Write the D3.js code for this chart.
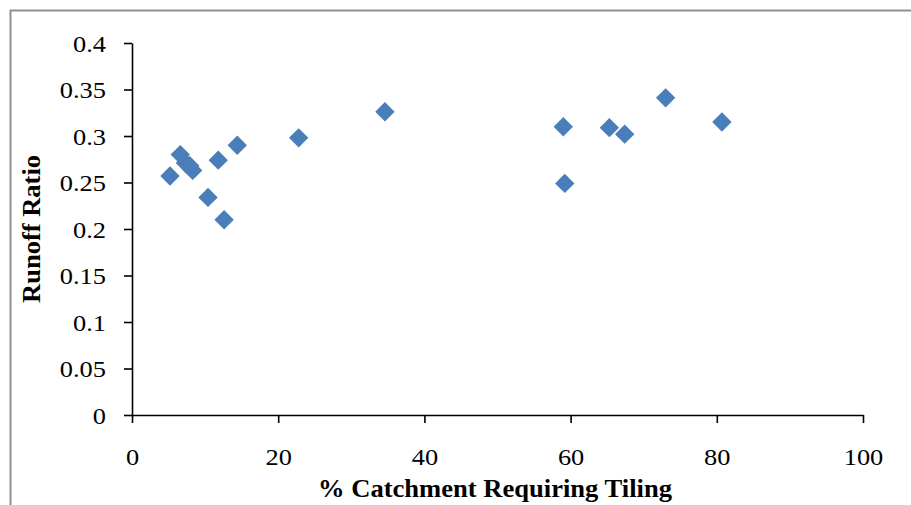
<!DOCTYPE html>
<html>
<head>
<meta charset="utf-8">
<script src="https://cdn.jsdelivr.net/npm/d3@7"></script>
<style>
    body { margin: 0; background: #fff; }
    #chart-area { width: 911px; height: 505px; overflow: hidden; }
    .axis text { font-family: "Liberation Serif", "Times New Roman", serif; font-size: 24px; fill: #000; }
    .axis path, .axis line { stroke: #000; stroke-width: 1.6px; }
    .axis-title { font-family: "Liberation Serif", "Times New Roman", serif; font-weight: bold; fill: #000; }
</style>
</head>
<body>
<div id="chart-area"></div>
<script>

// values
const catchmentTiling = [5.2, 6.6, 7.3, 7.9, 8.3, 10.4, 11.8, 12.6, 14.4, 22.8, 34.6, 59.0, 59.2, 65.3, 67.4, 73.0, 80.7];
const runoffRatio = [0.257, 0.280, 0.271, 0.268, 0.263, 0.234, 0.274, 0.210, 0.290, 0.298, 0.326, 0.310, 0.249, 0.309, 0.302, 0.341, 0.315];

const xTicks = [0, 20, 40, 60, 80, 100];
const yTicks = [0, 0.05, 0.1, 0.15, 0.2, 0.25, 0.3, 0.35, 0.4];

const xLabel = "% Catchment Requiring Tiling";
const yLabel = "Runoff Ratio";


/* * * * * * * * * * * * * *
*      class ScatterPlot      *
* * * * * * * * * * * * * */

class ScatterPlot {

    constructor(parentElement, xData, yData) {
        this.parentElement = parentElement;
        this.xData = xData;
        this.yData = yData;
        this.displayData = [];

        this.initVis();
    }

    initVis() {
        let vis = this;

        vis.margin = {top: 43, right: 48, bottom: 90, left: 132};
        vis.width = 911 - vis.margin.left - vis.margin.right;
        vis.height = 505 - vis.margin.top - vis.margin.bottom;

        vis.root = d3.select("#" + vis.parentElement).append("svg")
            .attr("width", 911)
            .attr("height", 505);

        // grey chart frame (runs off the right and bottom edges)
        vis.root.append("rect")
            .attr("x", 10.5)
            .attr("y", 10.5)
            .attr("width", 1000)
            .attr("height", 1000)
            .attr("fill", "none")
            .attr("stroke", "#8f8f8f")
            .attr("stroke-width", 2);

        vis.svg = vis.root.append("g")
            .attr("transform", `translate(${vis.margin.left}, ${vis.margin.top})`);

        // scales
        vis.x = d3.scaleLinear()
            .domain([0, 100])
            .range([0, vis.width]);

        vis.y = d3.scaleLinear()
            .domain([0, 0.4])
            .range([vis.height, 0]);

        // axes
        vis.xAxis = d3.axisBottom(vis.x)
            .tickValues(xTicks)
            .tickSizeInner(8)
            .tickSizeOuter(0)
            .tickFormat(d3.format("d"));

        vis.yAxis = d3.axisLeft(vis.y)
            .tickValues(yTicks)
            .tickSizeInner(8)
            .tickSizeOuter(0)
            .tickFormat(d => d3.format("")(+d.toFixed(2)));

        vis.xAxisGroup = vis.svg.append("g")
            .attr("class", "x-axis axis")
            .attr("transform", `translate(0, ${vis.height})`);

        vis.yAxisGroup = vis.svg.append("g")
            .attr("class", "y-axis axis");

        // axis titles
        vis.root.append("text")
            .attr("class", "axis-title")
            .attr("x", 495)
            .attr("y", 497)
            .attr("text-anchor", "middle")
            .attr("font-size", 26)
            .attr("textLength", 354)
            .attr("lengthAdjust", "spacingAndGlyphs")
            .text(xLabel);

        vis.root.append("text")
            .attr("class", "axis-title")
            .attr("transform", "translate(40, 229) rotate(-90)")
            .attr("text-anchor", "middle")
            .attr("font-size", 26)
            .attr("textLength", 148)
            .attr("lengthAdjust", "spacingAndGlyphs")
            .text(yLabel);

        vis.wrangleData();
    }

    wrangleData() {
        let vis = this;
        vis.displayData = vis.xData.map((d, i) => ({tiling: d, ratio: vis.yData[i]}));
        vis.updateVis();
    }

    updateVis() {
        let vis = this;

        vis.yAxisGroup.call(vis.yAxis);
        vis.xAxisGroup.call(vis.xAxis);

        // the reference text is stretched sideways a little
        vis.yAxisGroup.selectAll("text")
            .attr("x", -26 / 1.1)
            .attr("dy", "0.34em")
            .attr("transform", "scale(1.1, 1)");

        vis.xAxisGroup.selectAll("text")
            .attr("y", 50)
            .attr("dy", 0)
            .attr("transform", "scale(1.1, 1)");

        // diamonds
        let diamond = d3.symbol().type(d3.symbolSquare).size(188);

        vis.svg.selectAll(".point")
            .data(vis.displayData)
            .enter().append("path")
            .attr("class", "point")
            .attr("d", diamond)
            .attr("fill", "#4a7ebb")
            .attr("transform", d => `translate(${vis.x(d.tiling)}, ${vis.y(d.ratio)}) rotate(45)`);
    }
}

let scatter = new ScatterPlot("chart-area", catchmentTiling, runoffRatio);

</script>
</body>
</html>
